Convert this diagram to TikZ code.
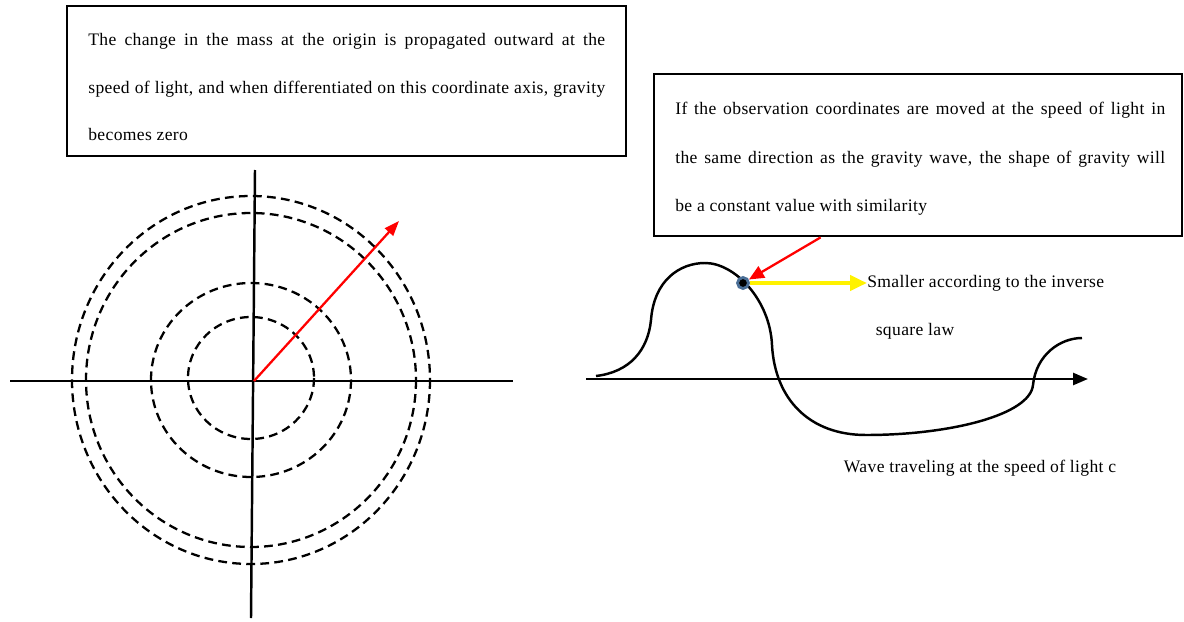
\documentclass[tikz,border=0pt]{standalone}
\usepackage{fontspec}
\setmainfont{Liberation Serif}[LetterSpace=2]
\usetikzlibrary{arrows.meta,positioning,calc}
\definecolor{ringblue}{RGB}{74,110,150}
\tikzset{
  framebox/.style={draw,line width=1.6pt,inner sep=0pt},
  txt/.style={anchor=base west,inner sep=0pt,font=\fontsize{10}{12}\selectfont},
  axisline/.style={line width=1.4pt},
  front/.style={line width=1.3pt,dash pattern=on 5pt off 3pt},
  wave/.style={line width=1.4pt}
}
\begin{document}
\begin{tikzpicture}[x=0.02cm,y=-0.02cm]
  \useasboundingbox (0,0) rectangle (1184,622);
  % left: spherical fronts around the origin
  \node[framebox,minimum width=11.18cm,minimum height=3cm] (massbox) at (346.5,81) {};
  \node[txt] (m1) at (88,46) {\makebox[10.34cm][s]{The change in the mass at the origin is propagated outward at the}};
  \node[txt] (m2) at (88,93) {\makebox[10.34cm][s]{speed of light, and when differentiated on this coordinate axis, gravity}};
  \node[txt] (m3) at (88,140) {becomes zero};
  \coordinate (O) at (254,381);
  \draw[axisline] (10,381) -- (513,381);
  \draw[axisline] (255,170) -- (251,618);
  \draw[front] (251,378) circle [x radius=63, y radius=61];
  \draw[front] (251,380) circle [x radius=100, y radius=97];
  \draw[front] (251,380) circle [x radius=165, y radius=167];
  \draw[front] (251,380) circle [x radius=179, y radius=184];
  \coordinate (tip) at (399,221);
  \draw[red,line width=1.3pt,-{Triangle[length=0.3cm,width=0.22cm]}] (O) -- (tip);
  % right: the travelling wave
  \node[framebox,minimum width=10.56cm,minimum height=3.24cm] (obsbox) at (918,155) {};
  \node[txt] (o1) at (675,114) {\makebox[9.8cm][s]{If the observation coordinates are moved at the speed of light in}};
  \node[txt] (o2) at (675,163) {\makebox[9.8cm][s]{the same direction as the gravity wave, the shape of gravity will}};
  \node[txt] (o3) at (675,211) {be a constant value with similarity};
  \draw[axisline,-{Triangle[length=0.3cm,width=0.24cm]}] (586,379) -- (1088,379);
  \draw[wave] (596,376) .. controls (630,372) and (648,350) .. (651,320)
    .. controls (654,280) and (680,263) .. (705,263)
    .. controls (735,263) and (770,300) .. (772,345)
    .. controls (775,400) and (810,435) .. (866,435)
    .. controls (950,435) and (1030,415) .. (1033,385)
    .. controls (1036,355) and (1060,338) .. (1082,338);
  \node[circle,fill=black,draw=ringblue,line width=1.6pt,inner sep=0pt,minimum size=0.22cm] (dot) at (743,283) {};
  \node[txt,anchor=west] (law) at (867,283) {Smaller according to the inverse};
  \node[txt,anchor=center] (law2) at (915,331) {square law};
  \node[txt,anchor=center] (speed) at (980,468) {Wave traveling at the speed of light c};
  \coordinate (obs) at ([xshift=3.36cm]obsbox.south west);
  \draw[red,line width=1.3pt,-{Triangle[length=0.3cm,width=0.26cm]}] (obs) -- (dot);
  \draw[yellow,line width=2.4pt,-{Triangle[length=0.34cm,width=0.3cm]}] (dot) -- (law.west);
\end{tikzpicture}
\end{document}
